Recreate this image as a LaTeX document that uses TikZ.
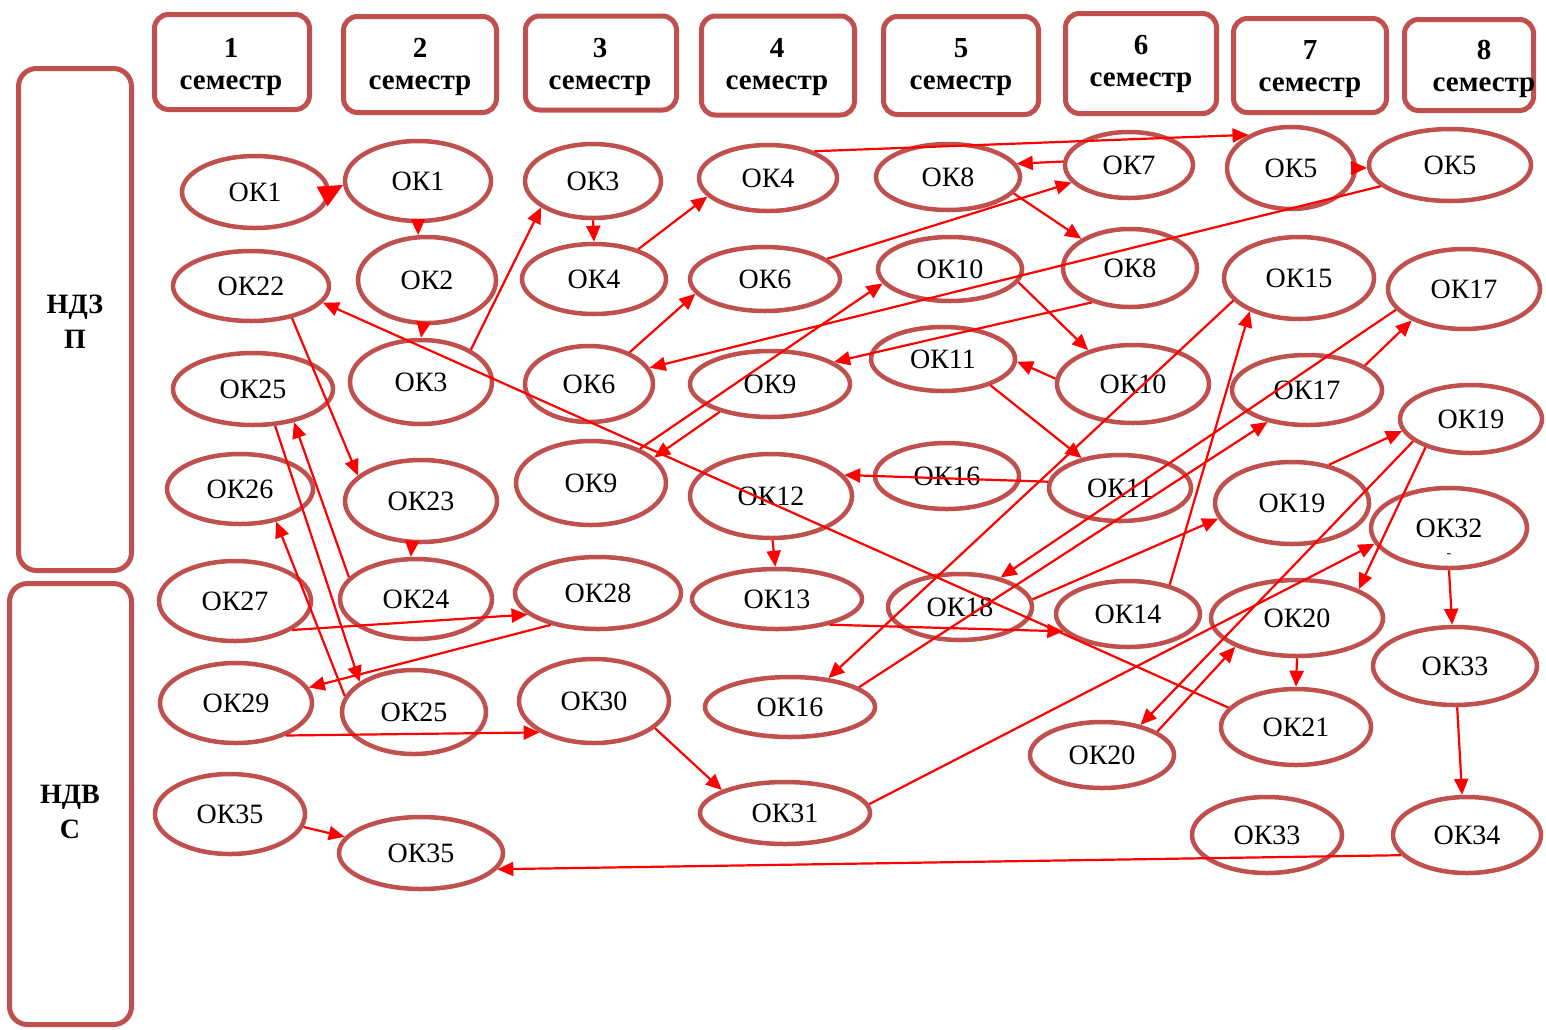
\documentclass[tikz,border=0pt]{standalone}
\usepackage{fontspec}
\setmainfont{Liberation Serif}
\usetikzlibrary{shapes.geometric,arrows.meta}
\definecolor{boxred}{RGB}{192,80,77}
\tikzset{
  okn/.style={ellipse, draw=boxred, line width=4.5pt, inner sep=0pt, font=\fontsize{28}{30}\selectfont},
  lnk/.style={draw=red, line width=2.2pt, -{Triangle[length=16pt,width=14pt]}},
  bigtip/.style={-{Triangle[length=24pt,width=22pt]}},
  sembox/.style={draw=boxred, line width=5pt, rounded corners=14pt, inner sep=0pt},
  sidebox/.style={draw=boxred, line width=5pt, rounded corners=18pt, inner sep=0pt},
  semtxt/.style={font=\bfseries\fontsize{29}{32}\selectfont, align=center, inner sep=0pt},
  sidetxt/.style={font=\bfseries\fontsize{28}{35}\selectfont, align=center, inner sep=0pt},
}
\newcommand\okn[6]{\node[okn,minimum width=#4pt,minimum height=#5pt] (#1) at (#2,#3) {#6};}
\begin{document}
\begin{tikzpicture}[x=1pt,y=-1pt]
\useasboundingbox (0,0) rectangle (1546,1029);
\fill[white] (0,0) rectangle (1546,1029);

% header boxes
\node[sembox,minimum width=155pt,minimum height=95pt] (s1) at (232,62) {};
\node[sembox,minimum width=153pt,minimum height=96pt] (s2) at (420,64.5) {};
\node[sembox,minimum width=151pt,minimum height=94pt] (s3) at (601,63) {};
\node[sembox,minimum width=153pt,minimum height=99pt] (s4) at (778,65.5) {};
\node[sembox,minimum width=155pt,minimum height=98pt] (s5) at (961,65.5) {};
\node[sembox,minimum width=151pt,minimum height=100pt] (s6) at (1141,63.5) {};
\node[sembox,minimum width=153pt,minimum height=94pt] (s7) at (1310,65.5) {};
\node[sembox,minimum width=129pt,minimum height=91pt] (s8) at (1469,65) {};
\node[semtxt] (t1) at (231,67) {1\\семестр};
\node[semtxt] (t2) at (420,67) {2\\семестр};
\node[semtxt] (t3) at (600,67) {3\\семестр};
\node[semtxt] (t4) at (777,67) {4\\семестр};
\node[semtxt] (t5) at (961,67) {5\\семестр};
\node[semtxt] (t6) at (1141,64) {6\\семестр};
\node[semtxt] (t7) at (1310,69) {7\\семестр};
\node[semtxt] (t8) at (1484,69) {8\\семестр};

% side boxes
\node[sidebox,minimum width=113pt,minimum height=502pt] (p1) at (75,319.5) {};
\node[sidebox,minimum width=122pt,minimum height=441pt] (p2) at (70.5,804) {};
\node[sidetxt] (p1t) at (75,322) {НДЗ\\П};
\node[sidetxt] (p2t) at (70,812) {НДВ\\С};

% column 1
\okn{a1}{255}{192}{146}{72}{ОК1}
\okn{a22}{251}{286}{156}{70}{ОК22}
\okn{a25}{253}{389}{160}{72}{ОК25}
\okn{a26}{240}{489}{146}{70}{ОК26}
\okn{a27}{235}{601}{152}{80}{ОК27}
\okn{a29}{236}{703}{152}{80}{ОК29}
\okn{a35}{230}{814}{150}{80}{ОК35}
% column 2
\okn{b1}{418}{181}{146}{80}{ОК1}
\okn{b2}{427}{280}{138}{86}{ОК2}
\okn{b3}{421}{382}{142}{84}{ОК3}
\okn{b23}{421}{501}{152}{82}{ОК23}
\okn{b24}{416}{599}{152}{80}{ОК24}
\okn{b25}{414}{712}{144}{84}{ОК25}
\okn{b35}{421}{853}{164}{72}{ОК35}
% column 3
\okn{c3}{593}{181}{136}{74}{ОК3}
\okn{c4}{594}{279}{144}{70}{ОК4}
\okn{c6}{589}{384}{128}{76}{ОК6}
\okn{c9}{591}{483}{150}{84}{ОК9}
\okn{c28}{598}{593}{166}{72}{ОК28}
\okn{c30}{594}{701}{150}{84}{ОК30}
% column 4
\okn{d4}{768}{178}{138}{66}{ОК4}
\okn{d6}{765}{279}{150}{64}{ОК6}
\okn{d9}{770}{384}{160}{66}{ОК9}
\okn{d12}{771}{496}{162}{84}{ОК12}
\okn{d13}{777}{599}{170}{60}{ОК13}
\okn{d16}{790}{707}{170}{60}{ОК16}
\okn{d31}{785}{813}{170}{62}{ОК31}
% column 5
\okn{e8}{948}{177}{144}{66}{ОК8}
\okn{e10}{950}{269}{144}{64}{ОК10}
\okn{e11}{943}{359}{144}{64}{ОК11}
\okn{e16}{947}{476}{144}{66}{ОК16}
\okn{e18}{960}{607}{144}{66}{ОК18}
% column 6
\okn{f7}{1129}{165}{128}{66}{ОК7}
\okn{f8}{1130}{268}{134}{78}{ОК8}
\okn{f10}{1133}{384}{152}{78}{ОК10}
\okn{f11}{1120}{488}{142}{66}{ОК11}
\okn{f14}{1128}{614}{144}{66}{ОК14}
\okn{f20}{1102}{755}{144}{66}{ОК20}
% column 7
\okn{g5}{1291}{168}{128}{82}{ОК5}
\okn{g15}{1299}{278}{150}{82}{ОК15}
\okn{g17}{1307}{390}{150}{70}{ОК17}
\okn{g19}{1292}{503}{154}{82}{ОК19}
\okn{g20}{1297}{618}{172}{76}{ОК20}
\okn{g21}{1296}{727}{150}{76}{ОК21}
\okn{g33}{1267}{835}{150}{76}{ОК33}
% column 8
\okn{h5}{1450}{165}{162}{72}{ОК5}
\okn{h17}{1464}{289}{152}{80}{ОК17}
\okn{h19}{1471}{419}{142}{68}{ОК19}
\okn{h32}{1449}{528}{156}{80}{ОК32}
\okn{h33}{1455}{666}{164}{78}{ОК33}
\okn{h34}{1467}{835}{148}{76}{ОК34}
\node[inner sep=0pt,font=\fontsize{14}{14}\selectfont] (h32d) at (1449,556) {-};

% connectors
\draw[lnk,bigtip] (a1.0) -- (b1.183);
\draw[lnk] (b1.270) -- (b2.101);
\draw[lnk] (b2.265) -- (b3.90);
\draw[lnk] (b3.33) -- (c3.207);
\draw[lnk] (c3.270) -- (c4.90);
\draw[lnk] (c4.34) -- (d4.197);
\draw[lnk] (d4.30) -- (g5.142);
\draw[lnk] (d6.18) -- (f7.197);
\draw[lnk] (f7.177) -- (e8.11);
\draw[lnk] (e8.346) -- (f8.149);
\draw[lnk] (g5.0) -- (h5.182);
\draw[lnk] (h5.197) -- (c6.15);
\draw[lnk] (c6.38) -- (d6.192);
\draw[lnk] (c9.35) -- (e10.192);
\draw[lnk] (f8.222) -- (d9.19);
\draw[lnk] (d9.209) -- (c9.22);
\draw[lnk] (e10.349) -- (f10.143);
\draw[lnk] (f10.176) -- (e11.358);
\draw[lnk] (e11.331) -- (f11.142);
\draw[lnk] (f11.175) -- (d12.16);
\draw[lnk] (d12.272) -- (d13.93);
\draw[lnk] (g21.164) -- (a22.347);
\draw[lnk] (a22.322) -- (b23.158);
\draw[lnk] (b23.258) -- (b24.97);
\draw[lnk] (b24.162) -- (a25.321);
\draw[lnk] (a25.301) -- (b25.151);
\draw[lnk] (b25.167) -- (a26.318);
\draw[lnk] (a27.333) -- (c28.197);
\draw[lnk] (c28.214) -- (a29.12);
\draw[lnk] (a29.327) -- (c30.210);
\draw[lnk] (c30.336) -- (d31.160);
\draw[lnk] (a35.350) -- (b35.168);
\draw[lnk] (h34.197) -- (b35.348);
\draw[lnk] (d13.334) -- (f14.195);
\draw[lnk] (g15.199) -- (d16.37);
\draw[lnk] (d16.16) -- (g17.219);
\draw[lnk] (h17.197) -- (e18.36);
\draw[lnk] (g17.23) -- (h17.211);
\draw[lnk] (f14.35) -- (g15.214);
\draw[lnk] (e18.6) -- (g19.192);
\draw[lnk] (g19.46) -- (h19.190);
\draw[lnk] (h19.201) -- (f20.38);
\draw[lnk] (h19.212) -- (g20.25);
\draw[lnk] (f20.23) -- (g20.205);
\draw[lnk] (g20.270) -- (g21.90);
\draw[lnk] (d31.6) -- (h32.192);
\draw[lnk] (h32.270) -- (h33.94);
\draw[lnk] (h33.273) -- (h34.97);
\end{tikzpicture}
\end{document}
